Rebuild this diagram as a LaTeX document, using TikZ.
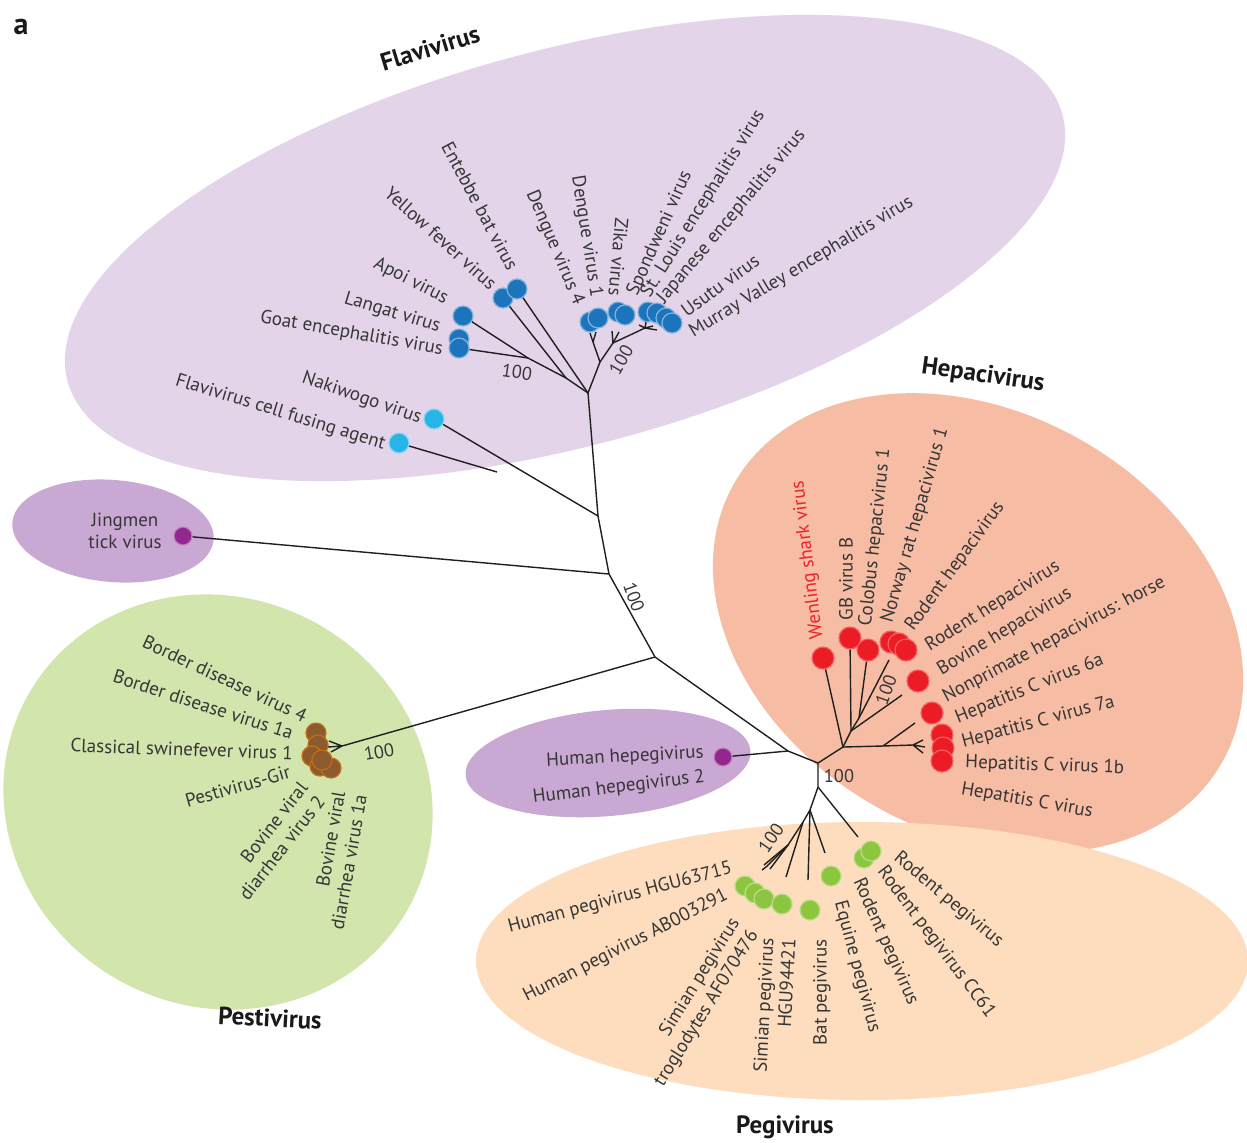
\documentclass[tikz,border=0pt]{standalone}
\usepackage{fontspec}
\setmainfont{PT Sans}
\definecolor{txt}{HTML}{363636}
\definecolor{flavibg}{HTML}{E4D4E9}
\definecolor{purplebg}{HTML}{C9A9D4}
\definecolor{greenbg}{HTML}{D2E5AC}
\definecolor{salmonbg}{HTML}{F7BDA4}
\definecolor{peachbg}{HTML}{FDDDBE}
\definecolor{dblue}{HTML}{1C75BC}
\definecolor{lblue}{HTML}{29B4E8}
\definecolor{dred}{HTML}{EC1C24}
\definecolor{dpurple}{HTML}{93278F}
\definecolor{dbrown}{HTML}{8B5A2E}
\definecolor{dgreen}{HTML}{8CC63F}
\definecolor{wred}{HTML}{E8242A}
\begin{document}
\begin{tikzpicture}[x=0.5pt,y=-0.5pt,
  br/.style={draw=black!88, line width=0.7pt},
  lab/.style={text=txt, font=\fontsize{9.5}{11}\selectfont, inner sep=0.5pt},
  bs/.style={text=txt, font=\fontsize{9.2}{11}\selectfont, inner sep=0.5pt},
  ttl/.style={text=black!90, font=\bfseries\fontsize{12.5}{14}\selectfont, inner sep=0pt},
  dotbase/.style={circle, minimum size=10pt, inner sep=0pt, line width=0.6pt},
  bdot/.style={dotbase, fill=dblue, draw=dblue!55!white},
  ldot/.style={dotbase, fill=lblue, draw=lblue!55!white},
  rdot/.style={dotbase, minimum size=11pt, fill=dred, draw=dred!70!white},
  pdot/.style={dotbase, minimum size=9pt, fill=dpurple, draw=dpurple!60!white},
  ndot/.style={dotbase, fill=dbrown, draw=dbrown!50!orange},
  gdot/.style={dotbase, fill=dgreen, draw=dgreen!60!white}]
\useasboundingbox (0,0) rectangle (1247,1142);
\fill[white] (0,0) rectangle (1247,1142);

% ---------- background ellipses ----------
\fill[flavibg, rotate around={15:(565,248)}] (565,248) ellipse [x radius=515, y radius=198];
\fill[purplebg, rotate around={-5:(113,531)}] (113,531) ellipse [x radius=101, y radius=51];
\fill[greenbg, rotate around={-30:(218,802)}] (218,802) ellipse [x radius=218, y radius=204];
\fill[purplebg, rotate around={5:(608,763)}] (608,763) ellipse [x radius=143, y radius=53];
\fill[salmonbg, rotate around={-30:(978,623)}] (978,623) ellipse [x radius=281, y radius=210];
\fill[peachbg] (862,961) ellipse [x radius=386, y radius=139];

% ---------- tree coordinates ----------
\coordinate (A) at (598,516);
\coordinate (B) at (609,574);
\coordinate (C) at (655,657);
\coordinate (E) at (788,751);
\coordinate (D) at (818,763);
% flavivirus
\coordinate (F0) at (588,393);
\coordinate (FA) at (566,378);
\coordinate (FL) at (528,358);
\coordinate (FR) at (600,362);
\coordinate (FD) at (593,342);
\coordinate (FZ) at (613,343);
\coordinate (FJ) at (645,328);
\coordinate (NK) at (497,472);
% hepacivirus
\coordinate (H0) at (843,747);
\coordinate (H1) at (851,731);
\coordinate (H2) at (859,718);
\coordinate (HCb) at (883,746);
\coordinate (HC) at (913,745);
% pegivirus
\coordinate (P0) at (818,787);
\coordinate (P1) at (810,810);
\coordinate (P2) at (803,822);
\coordinate (P3) at (788,845);
\coordinate (PT) at (766,867);
% pestivirus
\coordinate (PS) at (342,746);

% ---------- dots ----------
% flavivirus
\node[bdot] (langat) at (463,316) {};
\node[bdot] (goat1) at (459,339) {};
\node[bdot] (goat2) at (459,348) {};
\node[bdot] (yf) at (503,298) {};
\node[bdot] (ent) at (517,289) {};
\node[bdot] (den4) at (590,322) {};
\node[bdot] (den1) at (598,318) {};
\node[bdot] (zika) at (618,312) {};
\node[bdot] (spond) at (625,315) {};
\node[bdot] (slev) at (648,312) {};
\node[bdot] (jev) at (657,313) {};
\node[bdot] (usutu) at (666,318) {};
\node[bdot] (mve) at (672,323) {};
\node[ldot] (naki) at (434,419) {};
\node[ldot] (cfa) at (399,443) {};
% jingmen, hepegivirus
\node[pdot] (jing) at (183,536) {};
\node[pdot] (hhpg) at (723,757) {};
% hepacivirus
\node[rdot] (wen) at (823,658) {};
\node[rdot] (gbb) at (850,638) {};
\node[rdot] (colo) at (868,650) {};
\node[rdot] (nrat) at (891,642) {};
\node[rdot] (rod1) at (899,644) {};
\node[rdot] (rod2) at (906,650) {};
\node[rdot] (bov) at (918,681) {};
\node[rdot] (nonp) at (932,713) {};
\node[rdot] (hcv1) at (942,735) {};
\node[rdot] (hcv2) at (943,748) {};
\node[rdot] (hcv3) at (942,761) {};
% pestivirus
\node[ndot] (bd4) at (316,733) {};
\node[ndot] (bd1) at (318,745) {};
\node[ndot] (csf) at (312,756) {};
\node[ndot] (gir) at (320,766) {};
\node[ndot] (bv2) at (331,768) {};
\node[ndot] (bv1) at (322,760) {};
% pegivirus
\node[gdot] (hp1) at (745,886) {};
\node[gdot] (hp2) at (755,893) {};
\node[gdot] (sp1) at (764,899) {};
\node[gdot] (sp2) at (782,904) {};
\node[gdot] (bat) at (810,910) {};
\node[gdot] (equ) at (831,876) {};
\node[gdot] (rp1) at (864,858) {};
\node[gdot] (rp2) at (871,851) {};

% ---------- branches ----------
\begin{scope}[br]
\draw (A) -- (B) -- (C) -- (E) -- (D);
\draw (A) -- (F0);
\draw (A) -- (naki);
\draw (NK) -- (cfa);
\draw (B) -- (jing);
\draw (C) -- (PS);
\draw (PS) -- (329,741) (PS) -- (328,747) (PS) -- (331,752);
\draw (E) -- (hhpg);
% flavivirus
\draw (F0) -- (FA) -- (FL) -- (langat);
\draw (FL) -- (goat2);
\draw (FA) -- (yf);
\draw (F0) -- (ent);
\draw (F0) -- (FR) -- (FD);
\draw (FD) -- (590,333) (FD) -- (596,332);
\draw (FR) -- (FZ) -- (FJ);
\draw (FZ) -- (612,331) (FZ) -- (619,332);
\draw (FJ) -- (639,325) (FJ) -- (646,322) (FJ) -- (653,326) (FJ) -- (657,330);
% hepacivirus
\draw (D) -- (H0) -- (wen);
\draw (H0) -- (H1) -- (H2);
\draw (H1) -- (gbb);
\draw (H1) -- (902,695);
\draw (H2) -- (colo);
\draw (H2) -- (889,660);
\draw (H0) -- (HCb) -- (HC);
\draw (HCb) -- (915,723);
\draw (HC) -- (923,740) (HC) -- (925,747) (HC) -- (923,753);
% pegivirus
\draw (D) -- (P0) -- (P1) -- (P2) -- (P3) -- (PT);
\draw (P0) -- (858,837);
\draw (P1) -- (825,853);
\draw (P1) -- (808,880);
\draw (P2) -- (786,877);
\draw (P3) -- (764,865) (P3) -- (770,869) (PT) -- (762,870);
\end{scope}

% ---------- labels: flavivirus ----------
\node[lab, anchor=east, rotate=-17] (l1) at (386,445) {Flavivirus cell fusing agent};
\node[lab, anchor=east, rotate=-19] (l2) at (422,419) {Nakiwogo virus};
\node[lab, anchor=east, rotate=-10] (l3) at (444,350) {Goat encephalitis virus};
\node[lab, anchor=east, rotate=-17] (l4) at (441,328) {Langat virus};
\node[lab, anchor=east, rotate=-27] (l5) at (448,300) {Apoi virus};
\node[lab, anchor=east, rotate=-42] (l6) at (495,287) {Yellow fever virus};
\node[lab, anchor=east, rotate=-62] (l7) at (514,270) {Entebbe bat virus};
\node[lab, anchor=east, rotate=-67] (l8) at (579,305) {Dengue virus 4};
\node[lab, anchor=east, rotate=-81] (l9) at (596,298) {Dengue virus 1};
\node[lab, anchor=east, rotate=-95] (l10) at (615,297) {Zika virus};
\node[lab, anchor=west, rotate=66] (l11) at (632,296) {Spondweni virus};
\node[lab, anchor=west, rotate=58] (l12) at (645,297) {St. Louis encephalitis virus};
\node[lab, anchor=west, rotate=50] (l13) at (660,302) {Japanese encephalitis virus};
\node[lab, anchor=west, rotate=36] (l14) at (682,313) {Usutu virus};
\node[lab, anchor=west, rotate=31] (l15) at (690,334) {Murray Valley encephalitis virus};

% ---------- labels: hepacivirus ----------
\node[lab, anchor=west, rotate=97, text=wred] (l16) at (818,640) {Wenling shark virus};
\node[lab, anchor=west, rotate=90] (l17) at (846,622) {GB virus B};
\node[lab, anchor=west, rotate=84] (l18) at (866,627) {Colobus hepacivirus 1};
\node[lab, anchor=west, rotate=74] (l19) at (887,624) {Norway rat hepacivirus 1};
\node[lab, anchor=west, rotate=54] (l20) at (909,630) {Rodent hepacivirus};
\node[lab, anchor=west, rotate=32] (l21) at (926,648) {Rodent hepacivirus};
\node[lab, anchor=west, rotate=31] (l22) at (938,672) {Bovine hepacivirus};
\node[lab, anchor=west, rotate=28] (l23) at (943,699) {Nonprimate hepacivirus: horse};
\node[lab, anchor=west, rotate=22] (l24) at (955,719) {Hepatitis C virus 6a};
\node[lab, anchor=west, rotate=15] (l25) at (961,743) {Hepatitis C virus 7a};
\node[lab, anchor=west, rotate=-2] (l26) at (964,763) {Hepatitis C virus 1b};
\node[lab, anchor=west, rotate=-10] (l27) at (960,789) {Hepatitis C virus};

% ---------- labels: jingmen, hepegivirus ----------
\node[lab, align=center] (l34) at (125,531) {Jingmen\\tick virus};
\node[lab, anchor=east, rotate=3] (l35) at (705,753) {Human hepegivirus};
\node[lab, anchor=east, rotate=7] (l36) at (706,777) {Human hepegivirus 2};

% ---------- labels: pestivirus ----------
\node[lab, anchor=east, rotate=-25] (l28) at (307,717) {Border disease virus 4};
\node[lab, anchor=east, rotate=-18] (l29) at (294,734) {Border disease virus 1a};
\node[lab, anchor=east, rotate=-2] (l30) at (294,753) {Classical swinefever virus 1};
\node[lab, anchor=east, rotate=16] (l31) at (291,771) {Pestivirus-Gir};
\node[lab, anchor=east, rotate=52, align=right] (l32) at (313,790) {Bovine viral\\diarrhea virus 2};
\node[lab, anchor=east, rotate=80, align=right] (l33) at (350,792) {Bovine viral\\diarrhea virus 1a};

% ---------- labels: pegivirus ----------
\node[lab, anchor=east, rotate=15] (l37) at (733,868) {Human pegivirus HGU63715};
\node[lab, anchor=east, rotate=27] (l38) at (728,894) {Human pegivirus AB003291};
\node[lab, anchor=east, rotate=58, align=right] (l39) at (746,925) {Simian pegivirus\\troglodytes AF070476};
\node[lab, anchor=east, rotate=87, align=right] (l40) at (778,937) {Simian pegivirus\\HGU94421};
\node[lab, anchor=east, rotate=90] (l41) at (822,938) {Bat pegivirus};
\node[lab, anchor=west, rotate=-75] (l42) at (839,900) {Equine pegivirus};
\node[lab, anchor=west, rotate=-66] (l43) at (857,878) {Rodent pegivirus};
\node[lab, anchor=west, rotate=-53] (l44) at (880,868) {Rodent pegivirus CC61};
\node[lab, anchor=west, rotate=-40] (l45) at (895,855) {Rodent pegivirus};

% ---------- bootstrap values ----------
\node[bs, rotate=-70] (b1) at (634,597) {100};
\node[bs, rotate=-8] (b2) at (517,372) {100};
\node[bs, rotate=60] (b3) at (621,360) {100};
\node[bs, rotate=10] (b4) at (379,752) {100};
\node[bs, rotate=70] (b5) at (886,690) {100};
\node[bs] (b6) at (839,776) {100};
\node[bs, rotate=55] (b7) at (771,838) {100};

% ---------- group titles ----------
\node[ttl, font=\bfseries\fontsize{15}{17}\selectfont] (ta) at (21,27) {a};
\node[ttl, rotate=17] (tf) at (430,48) {Flavivirus};
\node[ttl, rotate=-8] (th) at (983,376) {Hepacivirus};
\node[ttl, rotate=-3] (tp) at (270,1018) {Pestivirus};
\node[ttl] (tg) at (785,1127) {Pegivirus};
\end{tikzpicture}
\end{document}
